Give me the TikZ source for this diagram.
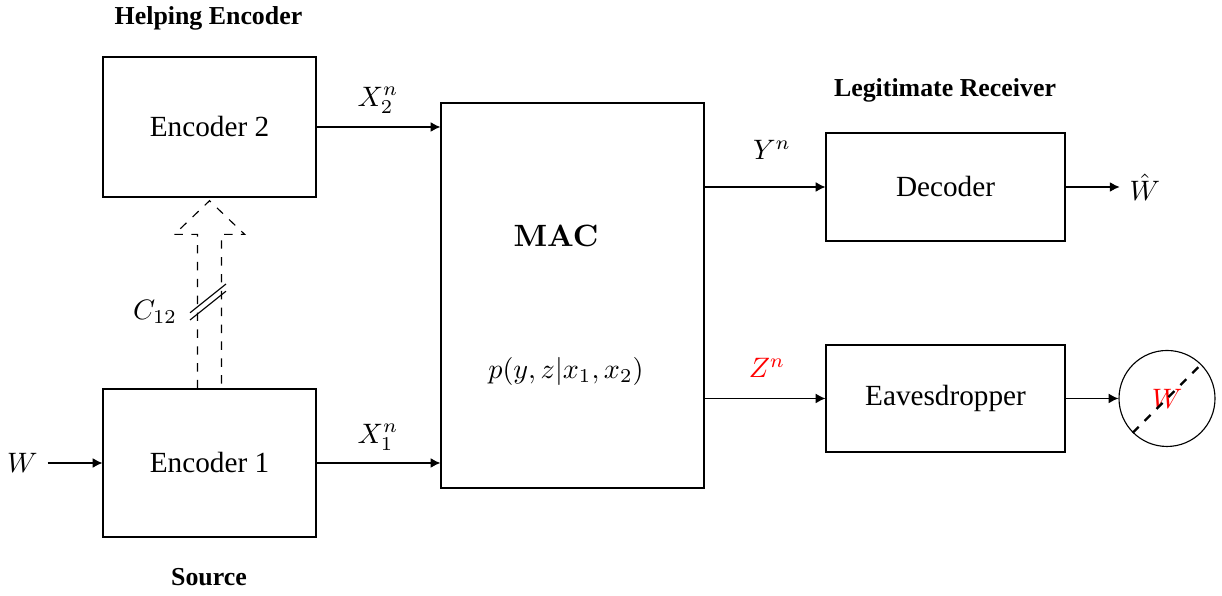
\documentclass[tikz,border=0pt]{standalone}
\usepackage{amsmath,amssymb}
\usepackage[no-math]{fontspec}
\setmainfont{LiberationSerif}[Extension=.ttf,UprightFont=*-Regular,BoldFont=*-Bold,ItalicFont=*-Italic,BoldItalicFont=*-BoldItalic]
\usetikzlibrary{positioning, calc}
\usetikzlibrary{arrows.meta}

\begin{document}
\begin{tikzpicture}[>={Latex[length=3.5pt,width=3.5pt]},
  blk/.style={draw,align=center,inner sep=0pt,font=\rmfamily\fontsize{10.4}{12}\selectfont},
  ttl/.style={font=\rmfamily\bfseries\fontsize{9.2}{11}\selectfont}]

\useasboundingbox (0,0) rectangle (15.275,7.45);

% ---- encoders ----
\node[blk,minimum width=2.6625cm,minimum height=1.75cm] (enc2) at (2.619,5.8625) {Encoder 2};
\node[blk,minimum width=2.6625cm,minimum height=1.85cm] (enc1) at (2.619,1.6625) {Encoder 1};
\node[ttl] (help) at (2.606,7.225) {Helping Encoder};
\node[ttl] (src) at (2.6125,0.2375) {Source};

% ---- canale MAC ----
\node[blk,minimum width=3.2875cm,minimum height=4.8125cm] (mac) at (7.156,3.756) {};
\node (macname) at (6.95,4.5) {\fontsize{11}{13}\selectfont $\mathbf{MAC}$};
\node (law) at (7.075,2.8125) {$p(y,z|x_1,x_2)$};

% ---- ricevitori ----
\node[blk,minimum width=2.9875cm,minimum height=1.35cm] (dec) at (11.819,5.1125) {Decoder};
\node[blk,minimum width=2.9875cm,minimum height=1.3375cm] (eav) at (11.819,2.469) {Eavesdropper};
\node[ttl] (legit) at (11.8125,6.325) {Legitimate Receiver};
\node[draw,circle,minimum size=1.2cm,inner sep=0pt,text=red] (wcirc) at (14.5875,2.469) {$W$};
\draw[dashed,thick] (wcirc.225) -- (wcirc.45);

% ---- messaggio ----
\node (win) at (0.28,1.6625) {$W$};
\node (what) at (14.31,5.1125) {$\hat{W}$};
\draw[->] (win) -- (enc1);
\draw[->] (dec.east) -- (what.west);
\draw[->] (eav.east) -- (wcirc.west);

% ---- ingressi e uscite del MAC ----
\draw[->] (enc2.east) -- (enc2.east -| mac.west);
\draw[->] (enc1.east) -- (enc1.east -| mac.west);
\draw[->] (mac.east |- dec.west) -- (dec.west);
\draw[->] (mac.east |- eav.west) -- (eav.west);
\node (x2) at (4.725,6.2) {$X_2^n$};
\node (x1) at (4.725,1.9875) {$X_1^n$};
\node (yn) at (9.65,5.575) {$Y^n$};
\node[red] (zn) at (9.5875,2.85) {$Z^n$};

% ---- link di conferenza ----
\draw[dashed] ($(enc1.north)+(-0.15,0)$) -- ($(enc1.north)+(-0.15,1.925)$)
  -- ($(enc1.north)+(-0.44,1.925)$) -- ($(enc2.south)+(0,-0.04)$)
  -- ($(enc1.north)+(0.44,1.925)$) -- ($(enc1.north)+(0.15,1.925)$)
  -- ($(enc1.north)+(0.15,0)$);
\draw (2.375,3.54) -- (2.825,3.9);
\draw (2.375,3.45) -- (2.825,3.81);
\node (c12) at (1.9375,3.55) {$C_{12}$};

\end{tikzpicture}
\end{document}
